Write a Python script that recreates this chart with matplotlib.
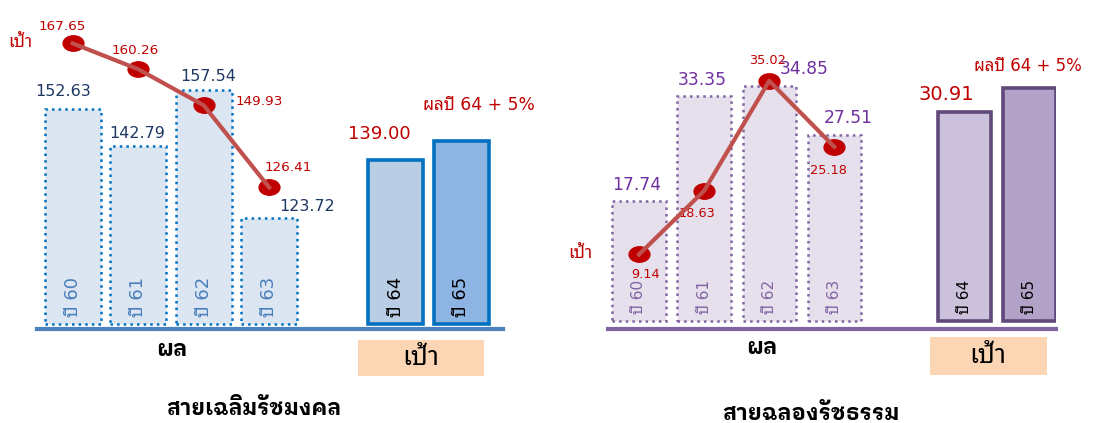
import matplotlib
matplotlib.use("Agg")
import matplotlib.pyplot as plt
from matplotlib.patches import Rectangle
from matplotlib.path import Path
from matplotlib.transforms import Affine2D

# data
result_years = ["ปี 60", "ปี 61", "ปี 62", "ปี 63"]
goal_years = ["ปี 64", "ปี 65"]

left_results = [152.63, 142.79, 157.54, 123.72]
left_targets = [167.65, 160.26, 149.93, 126.41]
left_goals = [139.00, 144.0]
left_goal_labels = ["139.00", "ผลปี 64 + 5%"]

right_results = [17.74, 33.35, 34.85, 27.51]
right_targets = [9.14, 18.63, 35.02, 25.18]
right_goals = [30.91, 34.5]
right_goal_labels = ["30.91", "ผลปี 64 + 5%"]

W, H = 1093, 423

plt.rcParams["font.family"] = ["DejaVu Sans", "Noto Sans Thai Looped"]
BOLD_FAMILY = ["DejaVu Sans", "IBM Plex Sans Thai Looped"]


def px_rect(x0, x1, ytop, ybot):
    return [x0 / W, 1 - ybot / H, (x1 - x0) / W, (ybot - ytop) / H]


def fig_text(fig, x, y, s, **kw):
    fig.text(x / W, 1 - y / H, s, ha="center", va="center", **kw)


ellipse = Path.unit_circle().transformed(Affine2D().scale(1.35, 1.0))


def draw_panel(fig, rect, xlim, ylim, ylim_line, base, goal_x, results, targets,
               goals, goal_labels, st):
    ax = fig.add_axes(rect)
    ax.set_xlim(*xlim)
    ax.set_ylim(*ylim)
    for side in ["top", "left", "right"]:
        ax.spines[side].set_visible(False)
    ax.spines["bottom"].set_color(st["base"])
    ax.spines["bottom"].set_linewidth(3)
    ax.set_xticks([])
    ax.set_yticks([])
    ax.patch.set_alpha(0)

    xr = list(range(len(results)))
    ax.bar(xr, [v - base for v in results], bottom=base, width=st["w"],
           color=st["face"], edgecolor=st["edge"], linewidth=1.8, linestyle=":")
    ax.bar(goal_x, [v - base for v in goals], bottom=base, width=st["gw"],
           color=st["goal_face"], edgecolor=st["goal_edge"], linewidth=2.6)

    for x, lab in zip(xr, result_years):
        ax.annotate(lab, (x, base), xytext=(0, 5), textcoords="offset points",
                    rotation=90, ha="center", va="bottom",
                    fontsize=st["yfs"], color=st["ycol"])
    for x, lab in zip(goal_x, goal_years):
        ax.annotate(lab, (x, base), xytext=(0, 5), textcoords="offset points",
                    rotation=90, ha="center", va="bottom",
                    fontsize=st["yfs"], color="black")

    for x, v, off in zip(xr, results, st["res_off"]):
        ax.annotate(f"{v:.2f}", (x, v), xytext=off, textcoords="offset points",
                    ha="center", va="center", fontsize=st["rfs"], color=st["rcol"])
    for x, v, lab, off, fs in zip(goal_x, goals, goal_labels, st["goal_off"], st["gfs"]):
        ax.annotate(lab, (x, v), xytext=off, textcoords="offset points",
                    ha="center", va="center", fontsize=fs, color="#C00000")

    # target line on its own scale
    ax2 = ax.twinx()
    ax2.set_ylim(*ylim_line)
    ax2.axis("off")
    ax2.plot(xr, targets, ls="none", marker=ellipse, markersize=15,
             color="#C00000", zorder=3)
    ax2.plot(xr, targets, color="#C0504D", lw=3, zorder=4)
    for x, v, off in zip(xr, targets, st["tgt_off"]):
        ax2.annotate(f"{v:.2f}", (x, v), xytext=off, textcoords="offset points",
                     ha="center", va="center", fontsize=st["tfs"], color="#C00000")
    ax2.annotate("เป้า", (xr[0], targets[0]), xytext=st["name_off"],
                 textcoords="offset points", ha="center", va="center",
                 fontsize=12.5, color="#C00000")
    return ax


fig = plt.figure(figsize=(W / 100, H / 100), dpi=100)

left_style = dict(
    base="#4F81BD", face="#DCE6F2", edge="#0070C0", w=0.855, gw=0.84,
    goal_face=["#B9CDE5", "#8EB4E3"], goal_edge="#0070C0",
    yfs=13, ycol="#4A7EBB", rfs=11.5, rcol="#1F3864", tfs=9.7,
    res_off=[(-7, 12.5), (-1, 9), (3, 10), (27, 8)],
    goal_off=[(-12, 19), (13, 26)], gfs=[13, 12.3],
    tgt_off=[(-7.5, 12.5), (-2, 13.5), (40, 2.5), (14, 14.5)],
    name_off=(-37.5, 1),
)
right_style = dict(
    base="#8064A2", face="#E6E0EC", edge="#8064A2", w=0.82, gw=0.82,
    goal_face=["#CCC1DA", "#B3A2C7"], goal_edge="#5F497A",
    yfs=11, ycol="#8064A2", rfs=12.3, rcol="#7030A0", tfs=9.3,
    res_off=[(-1.5, 11.5), (-1, 11.5), (25, 12.5), (10, 12.5)],
    goal_off=[(-13, 12.7), (-1, 16)], gfs=[14, 12],
    tgt_off=[(4.5, -14.5), (-5, -16.5), (-1, 15), (-4.5, -17)],
    name_off=(-42, 1),
)

draw_panel(fig, px_rect(37, 503, 0, 329), (-0.545, 6.57), (94.22, 181.5),
           (85.9, 180.07), 95.55, [4.93, 5.93], left_results, left_targets,
           left_goals, left_goal_labels, left_style)
draw_panel(fig, px_rect(608, 1056, 0, 329), (-0.476, 6.405), (-1.19, 47.59),
           (-1.97, 47.07), 0, [5, 6], right_results, right_targets,
           right_goals, right_goal_labels, right_style)

# bottom captions
for x0, y0, x1, y1 in [(358, 340, 484, 376), (930, 337, 1047, 375)]:
    fig.add_artist(Rectangle((x0 / W, 1 - y1 / H), (x1 - x0) / W, (y1 - y0) / H,
                             transform=fig.transFigure, color="#FCD5B5", lw=0))
fig_text(fig, 172, 350, "ผล", fontsize=16, fontweight="bold", family=BOLD_FAMILY)
fig_text(fig, 762, 348, "ผล", fontsize=16, fontweight="bold", family=BOLD_FAMILY)
fig_text(fig, 421, 358, "เป้า", fontsize=19)
fig_text(fig, 988, 356, "เป้า", fontsize=19)
fig_text(fig, 254, 408, "สายเฉลิมรัชมงคล", fontsize=15.6, fontweight="bold",
         family=BOLD_FAMILY)
fig_text(fig, 811, 413, "สายฉลองรัชธรรม", fontsize=15.8, fontweight="bold",
         family=BOLD_FAMILY)

fig.savefig("out.png", dpi=100)
